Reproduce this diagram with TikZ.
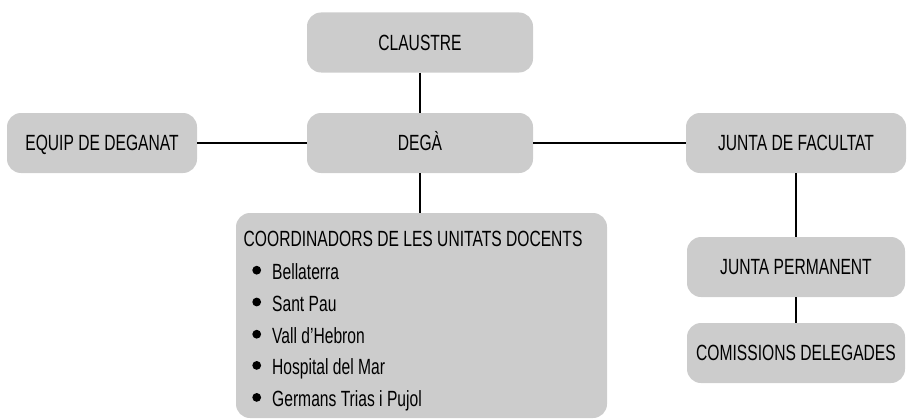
\documentclass[tikz,border=0pt]{standalone}
\usepackage{fontspec}
\setmainfont{Liberation Sans}[FakeStretch=0.71]
\usetikzlibrary{positioning}
\definecolor{boxgray}{HTML}{CCCCCC}

\begin{document}
\begin{tikzpicture}[x=1pt, y=-1pt,
        unit/.style={rectangle, rounded corners=14pt, fill=boxgray, minimum height=60pt, align=center, inner sep=0pt, text height=15.8pt, text depth=0pt, font=\fontsize{22}{26}\selectfont},
        item/.style={anchor=base west, inner sep=0pt, font=\fontsize{22}{26}\selectfont},
        dot/.style={circle, fill=black, inner sep=0pt, minimum size=8.8pt},
        link/.style={line width=1.1pt}
    ]
        \useasboundingbox (0,0) rectangle (907,420);

        % Top and centre
        \node[unit, minimum width=226pt] (claustre) at (420, 42.5) {CLAUSTRE};
        \node[unit, minimum width=226pt] (dega) at (420, 143) {DEGÀ};
        \node[unit, minimum width=190pt] (equip) at (102, 143) {EQUIP DE DEGANAT};

        % Right column
        \node[unit, minimum width=220pt] (junta) at (796, 143) {JUNTA DE FACULTAT};
        \node[unit, minimum width=218pt] (permanent) at (796, 267) {JUNTA PERMANENT};
        \node[unit, minimum width=218pt] (comissions) at (796, 353) {COMISSIONS DELEGADES};

        % Teaching units
        \node[unit, minimum width=371pt, minimum height=205pt] (coord) at (421.5, 315.5) {};
        \node[item] (title) at (243.5, 246.7) {COORDINADORS DE LES UNITATS DOCENTS};
        \node[item] (u1) at (272, 279.3) {Bellaterra};
        \node[item] (u2) at (272, 311) {Sant Pau};
        \node[item] (u3) at (272, 343.3) {Vall d’Hebron};
        \node[item] (u4) at (272, 374.5) {Hospital del Mar};
        \node[item] (u5) at (272, 406.5) {Germans Trias i Pujol};
        \node[dot] (d1) at (256.7, 270.2) {};
        \node[dot] (d2) at (256.7, 302) {};
        \node[dot] (d3) at (256.7, 334.2) {};
        \node[dot] (d4) at (256.7, 365.4) {};
        \node[dot] (d5) at (256.7, 397.4) {};

        % Links
        \draw[link] (claustre) -- (dega);
        \draw[link] (equip) -- (dega);
        \draw[link] (dega) -- (junta);
        \draw[link] (dega.south) -- (dega.south |- coord.north);
        \draw[link] (junta) -- (permanent);
        \draw[link] (permanent) -- (comissions);
    \end{tikzpicture}
\end{document}
